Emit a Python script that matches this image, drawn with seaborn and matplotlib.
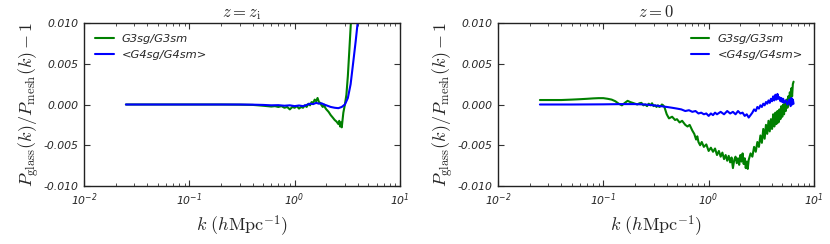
import math
import matplotlib
matplotlib.use('Agg')
import matplotlib.pyplot as plt
import matplotlib.ticker as mticker
import pandas as pd
import seaborn as sns

# left panel, z = z_i
k_zi_g3 = [0.025, 0.04, 0.06, 0.1, 0.15, 0.2, 0.3, 0.4, 0.45, 0.5, 0.55, 0.6, 0.65, 0.7, 0.75,
           0.8, 0.85, 0.9, 0.95, 1.0, 1.05, 1.1, 1.15, 1.2, 1.25, 1.3, 1.35, 1.4, 1.45, 1.5,
           1.55, 1.6, 1.65, 1.7, 1.75, 1.8, 1.85, 1.9, 1.95, 2.0, 2.1, 2.2, 2.3, 2.4, 2.5,
           2.6, 2.65, 2.7, 2.75, 2.8, 2.9, 3.0, 3.1, 3.2, 3.3, 3.4, 3.5, 3.6]
r_zi_g3 = [0.0, 0.0, 0.0, 0.0, 0.0, 0.0, -0.00002, -0.00005, -0.0001, -0.00015, -0.0002, -0.00025,
           -0.0002, -0.0003, -0.0002, -0.0004, -0.0003, -0.0006, -0.0003, -0.0004, -0.0002, -0.0005,
           -0.0003, -0.0004, -0.0001, -0.0003, 0.0001, -0.0001, 0.0003, 0.0002, 0.0006, 0.0004,
           0.0008, 0.0003, 0.0002, -0.0001, -0.0003, 0.0, -0.0004, -0.0006, -0.0009, -0.0013,
           -0.0016, -0.0019, -0.0021, -0.0024, -0.0020, -0.0027, -0.0022, -0.0028, -0.0010, 0.0,
           0.0012, 0.0035, 0.0065, 0.0095, 0.0125, 0.016]

k_zi_g4 = [0.025, 0.05, 0.1, 0.2, 0.3, 0.4, 0.5, 0.6, 0.7, 0.8, 0.9, 1.0, 1.1, 1.2, 1.3, 1.4,
           1.5, 1.6, 1.7, 1.8, 1.9, 2.0, 2.2, 2.4, 2.6, 2.8, 3.0, 3.2, 3.4, 3.6, 3.8, 4.0, 4.2]
r_zi_g4 = [0.0, 0.0, 0.0, 0.0, 0.0, -0.00002, -0.00005, -0.0001, -0.00008, -0.00015, -0.0001,
           -0.0002, -0.00012, -0.0002, -0.00005, 0.0001, 0.00005, 0.0002, 0.0001, 0.00015, 0.0,
           -0.0001, -0.0003, -0.0004, -0.00045, -0.0003, 0.0, 0.0008, 0.0025, 0.0052, 0.0078,
           0.0105, 0.014]

# right panel, z = 0
k_z0_g3 = [0.025, 0.03, 0.04, 0.05, 0.06, 0.07, 0.08, 0.09, 0.1, 0.11, 0.12, 0.13, 0.14, 0.15,
           0.16, 0.17, 0.18, 0.19, 0.2, 0.21, 0.22, 0.23, 0.24, 0.25, 0.26, 0.27, 0.28, 0.29,
           0.3, 0.31, 0.32, 0.33, 0.34, 0.35, 0.36, 0.37, 0.38, 0.4, 0.42, 0.45, 0.48, 0.5,
           0.53, 0.56, 0.6, 0.63, 0.66, 0.7, 0.73, 0.76, 0.78, 0.8, 0.83, 0.86, 0.9, 0.95,
           1.0, 1.05, 1.1, 1.15, 1.2, 1.25, 1.3, 1.35, 1.4, 1.45, 1.5, 1.55, 1.6, 1.65, 1.7,
           1.75, 1.8, 1.85, 1.9, 1.95, 2.0, 2.05, 2.1, 2.15, 2.2, 2.25, 2.3, 2.35, 2.4, 2.5,
           2.6, 2.7, 2.8, 2.9, 3.0, 3.1, 3.2, 3.3, 3.4, 3.5, 3.6, 3.7, 3.8, 3.9, 4.0, 4.1,
           4.2, 4.3, 4.4, 4.5, 4.6, 4.7, 4.8, 4.9, 5.0, 5.1, 5.2, 5.3, 5.4, 5.5, 5.6, 5.7,
           5.8, 5.9, 6.0, 6.1, 6.2, 6.3, 6.4]
r_z0_g3 = [0.00055, 0.00055, 0.00055, 0.0006, 0.00065, 0.0007, 0.00075, 0.00078, 0.00078, 0.0007,
           0.0006, 0.0004, 0.0001, -0.0001, 0.0002, 0.00045, 0.0003, 0.0002, 0.0001, 0.0,
           0.00015, 0.0002, -0.0001, 0.0, -0.0002, 0.0001, -0.0001, 0.00015, -0.0002, -0.0001,
           -0.0003, -0.0001, -0.0003, -0.0002, 0.0, -0.0001, -0.0003, -0.0012, -0.0017, -0.0015,
           -0.0019, -0.0018, -0.0022, -0.0020, -0.0025, -0.0027, -0.0025, -0.0032, -0.0036,
           -0.0043, -0.0039, -0.0046, -0.0050, -0.0046, -0.0052, -0.0049, -0.0057, -0.0053,
           -0.0058, -0.0054, -0.0062, -0.0057, -0.0064, -0.0059, -0.0067, -0.0062, -0.0069,
           -0.0063, -0.0071, -0.0065, -0.0078, -0.0068, -0.0064, -0.0072, -0.0066, -0.0074,
           -0.0062, -0.0070, -0.0060, -0.0073, -0.0066, -0.0078, -0.0070, -0.0079, -0.0068,
           -0.0060, -0.0064, -0.0052, -0.0058, -0.0046, -0.0052, -0.0038, -0.0047, -0.0030,
           -0.0042, -0.0025, -0.0036, -0.0020, -0.0033, -0.0018, -0.0030, -0.0012, -0.0027,
           -0.0010, -0.0024, -0.0008, -0.0022, -0.0006, -0.0018, -0.0002, -0.0015, 0.0,
           -0.0012, 0.0003, -0.0008, 0.0006, -0.0004, 0.0010, 0.0, 0.0015, 0.0004, 0.0020,
           0.0010, 0.0025, 0.0028]

k_z0_g4 = [0.025, 0.05, 0.1, 0.15, 0.2, 0.25, 0.3, 0.35, 0.4, 0.45, 0.5, 0.55, 0.6, 0.65, 0.7,
           0.75, 0.8, 0.85, 0.9, 0.95, 1.0, 1.05, 1.1, 1.15, 1.2, 1.3, 1.4, 1.5, 1.6, 1.7,
           1.8, 1.9, 2.0, 2.1, 2.2, 2.3, 2.4, 2.5, 2.6, 2.7, 2.8, 2.9, 3.0, 3.1, 3.2, 3.3,
           3.4, 3.5, 3.6, 3.7, 3.8, 3.9, 4.0, 4.1, 4.2, 4.3, 4.4, 4.5, 4.6, 4.7, 4.8, 4.9,
           5.0, 5.1, 5.2, 5.4, 5.6, 5.8, 6.0, 6.1, 6.2, 6.3, 6.4]
r_z0_g4 = [0.0, 0.0, 0.00002, 0.00005, 0.00005, 0.0, -0.0001, -0.0002, -0.0003, -0.0004, -0.0005,
           -0.0006, -0.0008, -0.0007, -0.0009, -0.0008, -0.0011, -0.0010, -0.0012, -0.0011,
           -0.0014, -0.0011, -0.0013, -0.0010, -0.0012, -0.0009, -0.0012, -0.0008, -0.0011,
           -0.0009, -0.0012, -0.0008, -0.0011, -0.0010, -0.0014, -0.0012, -0.0016, -0.0013,
           -0.0010, -0.0006, -0.0008, -0.0003, -0.0005, -0.0001, -0.0003, 0.0001, -0.0001,
           0.0003, 0.0001, 0.0005, 0.0002, 0.0007, 0.0004, 0.0010, 0.0005, 0.0012, 0.0006,
           0.0013, 0.0007, 0.0009, 0.0004, 0.0008, 0.0003, 0.0007, 0.0002, 0.0005, 0.0,
           0.0006, -0.0002, 0.0008, 0.0, 0.0006, 0.0001]

labels = ['G3sg/G3sm', '<G4sg/G4sm>']
titles = [r'$z=z_{\rm i}$', r'$z=0$']

sns.set_style('ticks')
plt.rcParams['font.family'] = ['DejaVu Sans']
plt.rcParams['font.style'] = 'italic'
plt.rcParams['mathtext.fontset'] = 'cm'
plt.rcParams['xtick.direction'] = 'in'
plt.rcParams['ytick.direction'] = 'in'
plt.rcParams['xtick.top'] = True
plt.rcParams['ytick.right'] = True

fig = plt.figure(figsize=(8.3, 2.44), dpi=100)
ax1 = fig.add_axes([0.1012, 0.2377, 0.3807, 0.668])
ax2 = fig.add_axes([0.6, 0.2377, 0.3807, 0.668])

panels = [
    (ax1, k_zi_g3, r_zi_g3, k_zi_g4, r_zi_g4, 'upper left'),
    (ax2, k_z0_g3, r_z0_g3, k_z0_g4, r_z0_g4, 'upper right'),
]

for i, (ax, k3, r3, k4, r4, loc) in enumerate(panels):
    df3 = pd.DataFrame({'k': k3, 'r': r3})
    df4 = pd.DataFrame({'k': k4, 'r': r4})
    sns.lineplot(data=df3, x='k', y='r', ax=ax, color='g', lw=1.5, estimator=None, label=labels[0])
    sns.lineplot(data=df4, x='k', y='r', ax=ax, color='b', lw=1.5, estimator=None, label=labels[1])
    ax.set_xscale('log')
    ax.set_xlim(1e-2, 1e1)
    ax.set_ylim(-0.010, 0.010)
    ax.set_yticks([-0.010, -0.005, 0.0, 0.005, 0.010])
    ax.yaxis.set_major_formatter(mticker.FormatStrFormatter('%.3f'))
    ax.xaxis.set_major_formatter(mticker.FuncFormatter(
        lambda v, p: r'$\mathregular{10^{%d}}$' % round(math.log10(v))))
    ax.tick_params(which='major', length=4, width=0.8, labelsize=7.8, color='#333333', pad=4)
    ax.tick_params(which='minor', length=2, width=0.6, color='#333333')
    for s in ax.spines.values():
        s.set_linewidth(1.0)
        s.set_color('#222222')
    ax.set_xlabel(r'$k\ (h{\rm Mpc}^{-1})$', fontsize=13)
    ax.set_ylabel(r'$P_{\rm glass}(k)/P_{\rm mesh}(k)-1$', fontsize=13, labelpad=2)
    ax.set_title(titles[i], fontsize=12, pad=4)
    ax.legend(loc=loc, frameon=False, fontsize=8.2, handlelength=1.6, handletextpad=0.7,
              borderaxespad=0.6, labelspacing=0.45)

fig.savefig('out.png', dpi=100)
